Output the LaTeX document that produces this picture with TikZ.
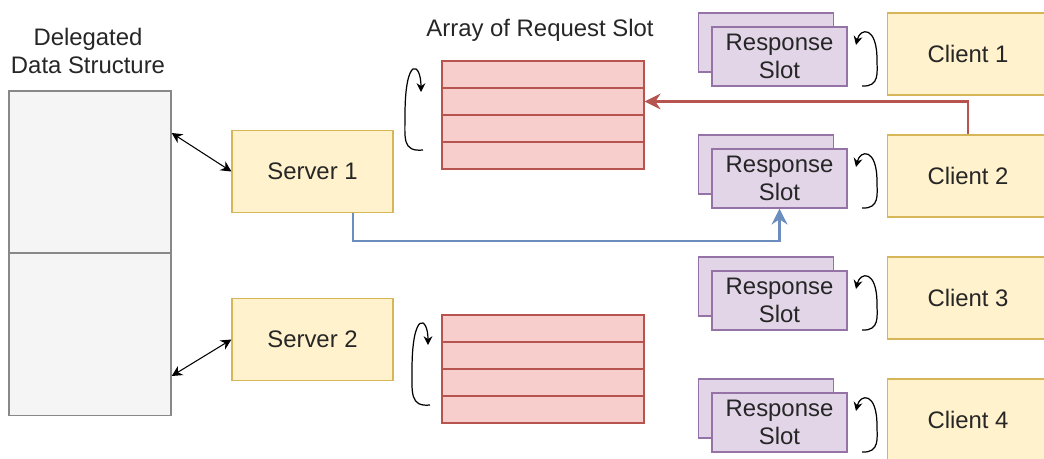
\documentclass[tikz,border=0pt]{standalone}
\usepackage{fontspec}
\setmainfont{Liberation Sans}
\usetikzlibrary{arrows.meta}

\definecolor{yfill}{HTML}{FFF2CC}
\definecolor{ydraw}{HTML}{D6B656}
\definecolor{rfill}{HTML}{F8CECC}
\definecolor{rdraw}{HTML}{B85450}
\definecolor{pfill}{HTML}{E1D5E7}
\definecolor{pdraw}{HTML}{9673A6}
\definecolor{gfill}{HTML}{F5F5F5}
\definecolor{gdraw}{HTML}{888888}
\definecolor{bdraw}{HTML}{6C8EBF}

\tikzset{
  txt/.style={font=\fontsize{13.6pt}{16pt}\selectfont,text=black!85},
  yellowbox/.style={txt,draw=ydraw,fill=yfill,line width=0.7pt,inner sep=0,
    minimum width=3.22cm,minimum height=1.63cm},
  slotrow/.style={draw=rdraw,fill=rfill,line width=0.8pt,inner sep=0,
    minimum width=4.04cm,minimum height=0.54cm},
  respbox/.style={txt,draw=pdraw,fill=pfill,line width=0.7pt,inner sep=0,
    minimum width=2.7cm,minimum height=1.18cm,align=center},
  dsbox/.style={draw=gdraw,fill=gfill,line width=0.8pt,inner sep=0,
    minimum width=3.24cm,minimum height=3.24cm},
  loop/.style={line width=0.7pt,-{Stealth[length=5pt,width=5pt]}}
}

\begin{document}
\begin{tikzpicture}[x=0.02cm,y=-0.02cm]
\useasboundingbox (0,0) rectangle (1044,458);

% delegated data structure
\node[dsbox] (ds1) at (90,172) {};
\node[dsbox] (ds2) at (90,334.5) {};
\node[txt,align=center] (dslabel) at (88,51) {Delegated\\Data Structure};

% servers
\node[yellowbox] (server1) at (312.5,171.5) {Server 1};
\node[yellowbox] (server2) at (312.5,339.5) {Server 2};

\draw[line width=0.6pt,{Stealth[length=6pt,width=6pt]}-{Stealth[length=6pt,width=6pt]}]
  (ds1.east |- 0,133) -- (server1.west);
\draw[line width=0.6pt,{Stealth[length=6pt,width=6pt]}-{Stealth[length=6pt,width=6pt]}]
  (ds2.east |- 0,376) -- (server2.west);

% request slot arrays
\node[txt] (arrlabel) at (540,30) {Array of Request Slot};
\foreach \i in {1,...,4} {
  \node[slotrow] (qa\i) at (543,{61+13.5+27*(\i-1)}) {};
  \node[slotrow] (qb\i) at (543,{315+13.5+27*(\i-1)}) {};
}
\draw[loop] (423,150) .. controls (402,152) and (405,138) .. (405,115)
  .. controls (405,55) and (421,62) .. (421,92);
\draw[loop] (430,405) .. controls (410,407) and (412,393) .. (412,370)
  .. controls (412,310) and (428,316) .. (428,345);

% clients and response slots
\foreach \i/\y in {1/0,2/122,3/244,4/366} {
  \node[respbox] (rsb\i) at (766,42.5+\y) {};
  \node[respbox] (rs\i) at (779.5,56.5+\y) {Response\\Slot};
  \node[yellowbox,minimum height=1.64cm] (client\i) at (968,54+\y) {Client \i};
  \draw[loop] (862,86+\y) .. controls (880,87+\y) and (877,72+\y) .. (877,60+\y)
    .. controls (877,25+\y) and (860,28+\y) .. (856,45+\y);
}

% connectors
\draw[rdraw,line width=1.6pt,-{Stealth[length=9pt,width=9pt]}]
  (client2.north) |- (qa2.east);
\draw[bdraw,line width=1.6pt,-{Stealth[length=9pt,width=9pt]}]
  (server1.south -| 353,0) -- (353,241) -| (rs2.south);
\end{tikzpicture}
\end{document}
